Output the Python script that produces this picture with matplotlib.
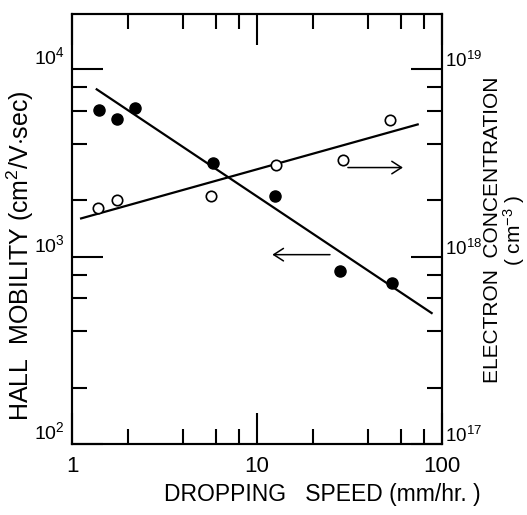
import matplotlib
matplotlib.use("Agg")
import matplotlib.pyplot as plt
from matplotlib.transforms import ScaledTranslation
from matplotlib.ticker import FixedLocator, NullFormatter

plt.rcParams['font.family'] = ['Liberation Sans', 'DejaVu Sans']
plt.rcParams['mathtext.fontset'] = 'custom'
plt.rcParams['mathtext.rm'] = 'Liberation Sans'
plt.rcParams['mathtext.it'] = 'Liberation Sans:italic'
plt.rcParams['mathtext.bf'] = 'Liberation Sans:bold'

# ---- data ----
speed_mob = [1.40, 1.75, 2.19, 5.8, 12.5, 28.1, 53.5]          # mm/hr
mobility = [6040, 5400, 6240, 3170, 2100, 834, 723]            # cm2/V.sec
speed_conc = [1.38, 1.75, 5.62, 12.6, 29.1, 52.4]              # mm/hr
concentration = [1.82e18, 2.0e18, 2.12e18, 3.07e18, 3.27e18, 5.34e18]  # cm^-3

mob_fit_x = [1.36, 87.9]
mob_fit_y = [7820, 500]
conc_fit_x = [1.12, 73.9]
conc_fit_y = [1.6e18, 5.08e18]

arrow_right_x = [31, 61.5]      # points to right axis
arrow_right_y = 2.99e18
arrow_left_x = [24.8, 12.1]     # points to left axis
arrow_left_y = 1025

x_ticks = [1, 10, 100]
x_ticklabels = ['1', '10', '100']
x_minor = [2, 4, 6, 8, 20, 40, 60, 80]
yl_ticks = [1e2, 1e3, 1e4]
yl_ticklabels = [r'$\mathregular{10^{2}}$', r'$\mathregular{10^{3}}$', r'$\mathregular{10^{4}}$']
yl_minor = [200, 400, 600, 800, 2000, 4000, 6000, 8000]
yr_ticks = [1e17, 1e18, 1e19]
yr_ticklabels = [r'$\mathregular{10^{17}}$', r'$\mathregular{10^{18}}$', r'$\mathregular{10^{19}}$']
yr_minor = [2e17, 4e17, 6e17, 8e17, 2e18, 4e18, 6e18, 8e18]

W, H = 527, 515
fig = plt.figure(figsize=(W / 100, H / 100), dpi=100)
ax = fig.add_axes([72 / W, 1 - 444 / H, 370 / W, (444 - 13.5) / H])
ax2 = ax.twinx()

ylo, yhi = 1e2, 10 ** 4.298
ax.set_xscale('log')
ax.set_yscale('log')
ax2.set_yscale('log')
ax.set_xlim(1, 100)
ax.set_ylim(ylo, yhi)
ax2.set_ylim(ylo * 1e15, yhi * 1e15)

lw = 1.5
for a in (ax, ax2):
    for s in a.spines.values():
        s.set_linewidth(lw)

# lines and points
ax.plot(mob_fit_x, mob_fit_y, color='black', lw=1.6, zorder=2)
ax.plot(speed_mob, mobility, 'o', color='black', ms=8, zorder=3)
ax2.plot(conc_fit_x, conc_fit_y, color='black', lw=1.6, zorder=2)
ax2.plot(speed_conc, concentration, 'o', mfc='white', mec='black', mew=1.2, ms=7.5, zorder=3)

# arrows
ap = dict(arrowstyle='->,head_length=0.7,head_width=0.45', color='black', lw=1.1, shrinkA=0, shrinkB=0)
ax2.annotate('', xy=(arrow_right_x[1], arrow_right_y), xytext=(arrow_right_x[0], arrow_right_y), arrowprops=ap)
ax.annotate('', xy=(arrow_left_x[1], arrow_left_y), xytext=(arrow_left_x[0], arrow_left_y), arrowprops=ap)

# ticks
ax.xaxis.set_major_locator(FixedLocator(x_ticks))
ax.xaxis.set_minor_locator(FixedLocator(x_minor))
ax.xaxis.set_minor_formatter(NullFormatter())
ax.set_xticklabels(x_ticklabels)
ax.tick_params(axis='x', which='major', direction='in', length=22, width=lw, top=True,
               labelsize=16, pad=9)
ax.tick_params(axis='x', which='minor', direction='in', length=11, width=lw, top=True)

ax.yaxis.set_major_locator(FixedLocator(yl_ticks))
ax.yaxis.set_minor_locator(FixedLocator(yl_minor))
ax.yaxis.set_minor_formatter(NullFormatter())
ax.tick_params(axis='y', which='major', direction='in', length=22, width=lw, labelleft=False)
ax.tick_params(axis='y', which='minor', direction='in', length=11, width=lw, labelleft=False)

ax2.yaxis.set_major_locator(FixedLocator(yr_ticks))
ax2.yaxis.set_minor_locator(FixedLocator(yr_minor))
ax2.yaxis.set_minor_formatter(NullFormatter())
ax2.tick_params(axis='y', which='major', direction='in', length=22, width=lw, labelright=False)
ax2.tick_params(axis='y', which='minor', direction='in', length=11, width=lw, labelright=False)

# y tick labels, slightly raised as in the reference
tl = ax.get_yaxis_transform() + ScaledTranslation(-7 / 100, 12 / 100, fig.dpi_scale_trans)
for v, lab in zip(yl_ticks, yl_ticklabels):
    ax.text(0, v, lab, transform=tl, ha='right', va='center', fontsize=14)
tr = ax2.get_yaxis_transform() + ScaledTranslation(3 / 100, 8 / 100, fig.dpi_scale_trans)
for v, lab in zip(yr_ticks, yr_ticklabels):
    ax2.text(1, v, lab, transform=tr, ha='left', va='center', fontsize=13.5)

# axis labels
fig.text(20 / W, 1 - 256 / H, r'HALL  MOBILITY (cm$^{2}$/V$\cdot$sec)', rotation=90,
         ha='center', va='center', fontsize=18)
fig.text(505 / W, 1 - 230 / H, 'ELECTRON  CONCENTRATION\n' + r'( cm$^{-3}$ )', rotation=90,
         ha='center', va='center', multialignment='center', linespacing=1.0, fontsize=15)
fig.text(322 / W, 1 - 494 / H, 'DROPPING   SPEED (mm/hr. )',
         ha='center', va='center', fontsize=16.5)

fig.savefig('out.png', dpi=100)
